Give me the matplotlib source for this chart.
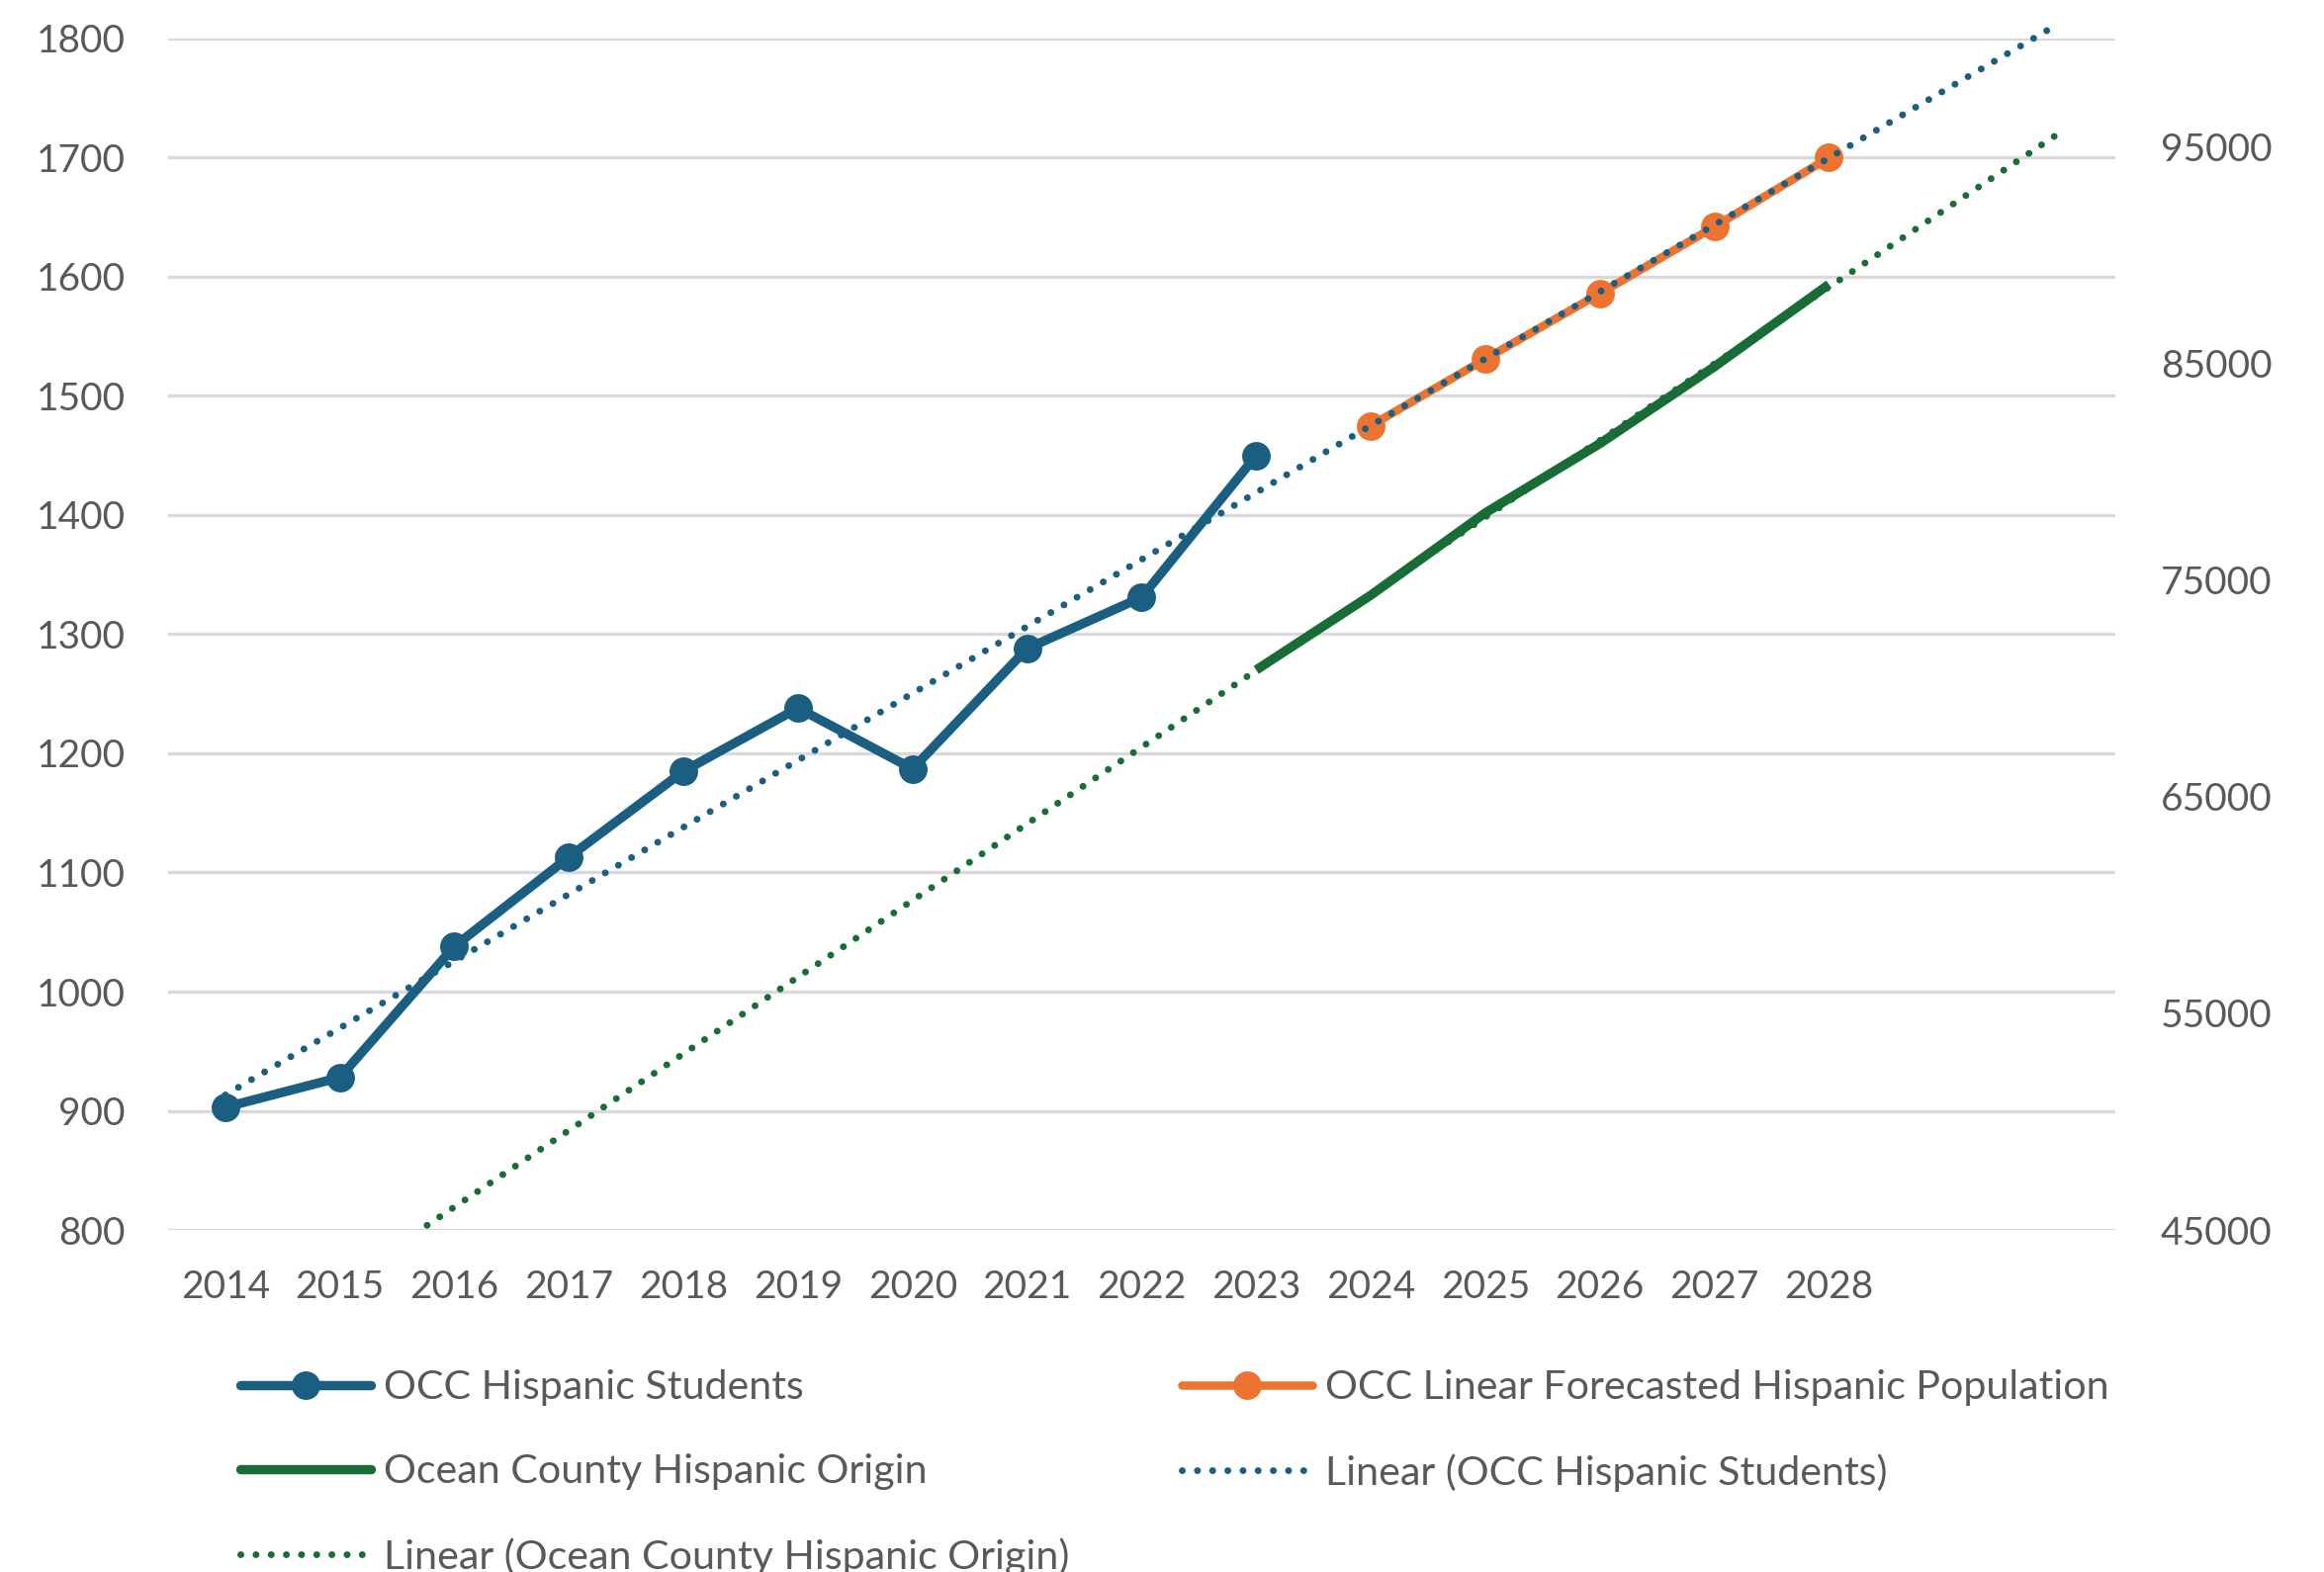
import numpy as np
import matplotlib
matplotlib.use("Agg")
from matplotlib import pyplot as plt
from matplotlib.lines import Line2D

plt.rcParams['font.family'] = ['Lato', 'DejaVu Sans']

# enrolment, forecast and county population
student_years = [2014, 2015, 2016, 2017, 2018, 2019, 2020, 2021, 2022, 2023]
students = [903, 928, 1038, 1113, 1185, 1238, 1187, 1288, 1331, 1450]

forecast_years = [2024, 2025, 2026, 2027, 2028]
forecast = [1475, 1531, 1586, 1642, 1700]

county_years = [2023, 2024, 2025, 2026, 2027, 2028]
county = [70850, 74300, 78100, 81300, 84850, 88650]

year_labels = [str(y) for y in range(2014, 2029)]
left_ticks = list(range(800, 1801, 100))
right_ticks = list(range(45000, 95001, 10000))

BLUE = '#1A5F82'
ORANGE = '#ED7331'
GREEN = '#186D37'
GREY_TXT = '#595959'
GRID = '#D9D9D9'

LW = 3.4
MS = 9.4
DOT = dict(lw=2.5, ls=(0, (0.01, 2.2)), dash_capstyle='round')


def trend(xs, ys, x_from, x_to):
    """ least squares straight line, evaluated over [x_from, x_to] """
    k, b = np.polyfit(xs, ys, 1)
    xx = np.array([x_from, x_to], dtype=float)
    return xx, k * xx + b


fig = plt.figure(figsize=(11.75, 7.95), dpi=200)
ax = fig.add_axes([0.0723, 0.2176, 0.9102 - 0.0723, 0.9755 - 0.2176])
ax2 = ax.twinx()

ax.set_xlim(2013.5, 2030.5)
ax.set_ylim(800, 1800)
ax2.set_ylim(45000, 100000)

ax.set_yticks(left_ticks)
ax2.set_yticks(right_ticks)
ax.set_xticks(range(2014, 2029))
ax.set_xticklabels(year_labels)

for a in (ax, ax2):
    for s in a.spines.values():
        s.set_visible(False)
    a.tick_params(length=0, labelsize=14, labelcolor=GREY_TXT)
ax.tick_params(axis='y', pad=15.5)
ax2.tick_params(axis='y', pad=16.5)
ax.tick_params(axis='x', pad=14.5)

ax.grid(axis='y', color=GRID, lw=1.2)
ax.set_axisbelow(True)

ax.plot(student_years, students, color=BLUE, lw=LW, marker='o', ms=MS,
        solid_capstyle='round', zorder=3)
ax.plot(forecast_years, forecast, color=ORANGE, lw=LW * 0.9, marker='o', ms=MS,
        solid_capstyle='round', zorder=3)

# the students trend runs a little past the top of the value axis
tx, ty = trend(student_years, students, 2014, 2030)
ax.plot(tx, ty, color=BLUE, zorder=4, clip_on=False, **DOT)

ax2.plot(county_years, county, color=GREEN, lw=LW, solid_capstyle='butt', zorder=3)
gx, gy = trend(county_years, county, 2014, 2030)
ax2.plot(gx, gy, color=GREEN, zorder=4, **DOT)

h_students = Line2D([], [], color=BLUE, lw=LW, marker='o', ms=MS, solid_capstyle='round')
h_forecast = Line2D([], [], color=ORANGE, lw=LW * 0.9, marker='o', ms=MS, solid_capstyle='round')
h_county = Line2D([], [], color=GREEN, lw=LW, solid_capstyle='round')
h_trend_students = Line2D([], [], color=BLUE, **DOT)
h_trend_county = Line2D([], [], color=GREEN, **DOT)

leg_kw = dict(loc='upper left', frameon=False, fontsize=14.8, labelcolor=GREY_TXT,
              handlelength=3.2, handletextpad=0.33, labelspacing=1.17,
              borderpad=0, borderaxespad=0)

fig.legend([h_students, h_county, h_trend_county],
           ['OCC Hispanic Students', 'Ocean County Hispanic Origin',
            'Linear (Ocean County Hispanic Origin)'],
           bbox_to_anchor=(0.1034, 0.129), **leg_kw)
fig.legend([h_forecast, h_trend_students],
           ['OCC Linear Forecasted Hispanic Population',
            'Linear (OCC Hispanic Students)'],
           bbox_to_anchor=(0.5085, 0.129), **leg_kw)

fig.savefig('out.png', dpi=200, facecolor='white')
